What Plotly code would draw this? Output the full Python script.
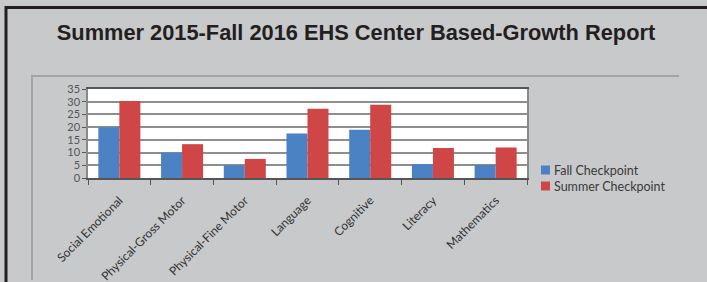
import plotly.graph_objects as go

categories = ["Social Emotional", "Physical-Gross Motor", "Physical-Fine Motor",
              "Language", "Cognitive", "Literacy", "Mathematics"]
fall_values = [20, 10, 5, 17.5, 19, 5.5, 5.2]
summer_values = [30.3, 13.3, 7.5, 27.2, 28.8, 11.8, 12]
series_names = ["Fall Checkpoint", "Summer Checkpoint"]
series_colors = ["#4a82c4", "#cf4646"]
y_ticks = [0, 5, 10, 15, 20, 25, 30, 35]

W, H = 707, 282
L, R, T, B = 88, 527, 89, 178   # plot area in pixels


def px(x):
    return (x - L) / (R - L)


def py(y):
    return (B - y) / (B - T)


fig = go.Figure()
for name, vals, col in zip(series_names, [fall_values, summer_values], series_colors):
    fig.add_trace(go.Bar(x=categories, y=vals, name=name,
                         marker=dict(color=col, line=dict(width=0))))

bg = "#c8c9cb"
shapes = [
    # outer dark frame (left + top)
    dict(type="line", xref="paper", yref="paper", x0=px(6), x1=px(6), y0=py(6), y1=py(290),
         line=dict(color="#231f20", width=3)),
    dict(type="line", xref="paper", yref="paper", x0=px(5), x1=px(720), y0=py(7.5), y1=py(7.5),
         line=dict(color="#231f20", width=3)),
    # inner panel (left + top)
    dict(type="line", xref="paper", yref="paper", x0=px(32), x1=px(32), y0=py(76), y1=py(280),
         line=dict(color="#a3a4a6", width=2)),
    dict(type="line", xref="paper", yref="paper", x0=px(31), x1=px(679), y0=py(76), y1=py(76),
         line=dict(color="#a3a4a6", width=2)),
]

annotations = []
legend_rows = [170, 186]
for name, col, yy in zip(series_names, series_colors, legend_rows):
    shapes.append(dict(type="rect", xref="paper", yref="paper",
                       x0=px(541), x1=px(550), y0=py(yy - 4.5), y1=py(yy + 4.5),
                       fillcolor=col, line=dict(width=0)))
    annotations.append(dict(text=name, xref="paper", yref="paper", x=px(552), y=py(yy),
                            xanchor="left", yanchor="middle", showarrow=False,
                            font=dict(family="Lato", size=12.5, color="#3a3a3a")))

fig.update_layout(
    width=W, height=H,
    margin=dict(l=L, r=W - R, t=T, b=H - B, pad=0, autoexpand=False),
    paper_bgcolor=bg, plot_bgcolor="white",
    barmode="group", bargap=0.33, bargroupgap=0,
    title=dict(text="<b>Summer 2015-Fall 2016 EHS Center Based-Growth Report</b>",
               x=356 / W, xref="container", xanchor="center",
               y=1 - 32 / H, yref="container", yanchor="middle",
               font=dict(family="Liberation Sans, Arial", size=21.8, color="#231f20")),
    showlegend=False,
    shapes=shapes,
    annotations=annotations,
    font=dict(family="Lato", color="#3a3a3a"),
)

fig.update_yaxes(range=[0, 35], tickvals=y_ticks, showgrid=True, gridcolor="#8e8e8e", gridwidth=1.8,
                 showline=True, linecolor="#8a8a8a", linewidth=1.5, mirror=True,
                 ticks="outside", ticklen=4, tickcolor="#555", tickwidth=1,
                 tickfont=dict(family="Lato", size=11, color="#555"), zeroline=False,
                 automargin=False)
fig.update_xaxes(showgrid=False, showline=True, linecolor="#555", linewidth=1.5, mirror=True,
                 ticks="outside", tickson="boundaries", ticklen=5, tickcolor="#555",
                 tickangle=-45, tickfont=dict(family="Lato", size=12, color="#333"),
                 ticklabelstandoff=9, automargin=False)

fig.write_html("out.html", config={"displayModeBar": False},
               post_script="document.body.style.margin='0';document.body.style.overflow='hidden';"
                           "document.body.style.background='#c8c9cb';")
